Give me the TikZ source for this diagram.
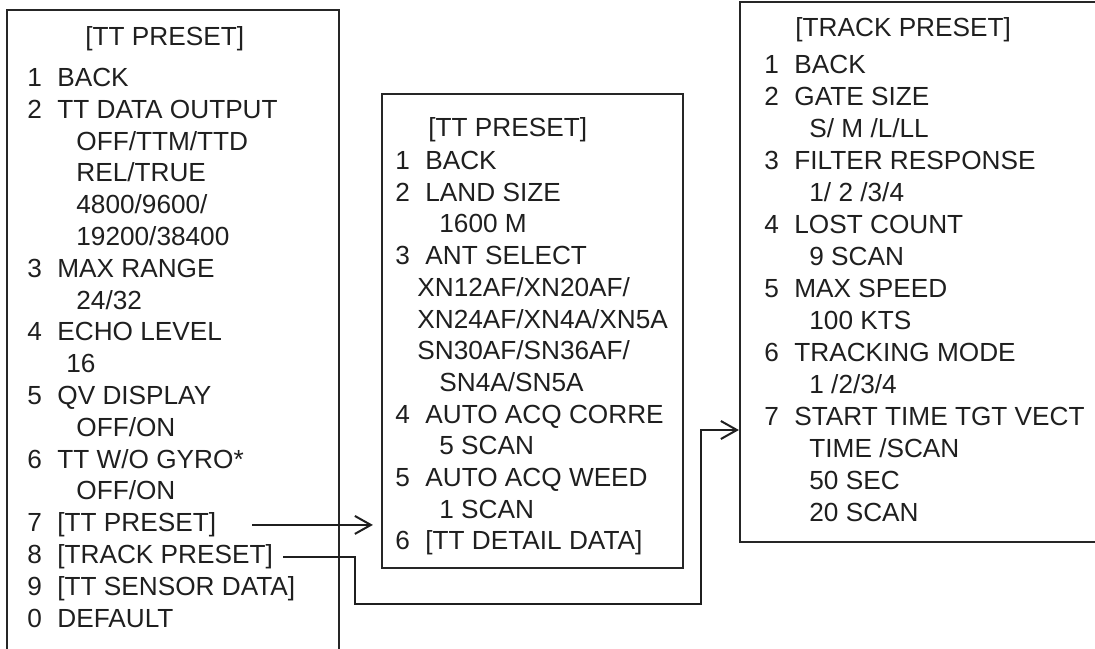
\documentclass[tikz,border=0pt]{standalone}
\usepackage{fontspec}
\setmainfont{Liberation Sans}
\usepackage{tikz}
\usetikzlibrary{arrows.meta, fit}

\newcommand{\itm}[2]{\makebox[15pt][l]{#1}#2}

\begin{document}
\begin{tikzpicture}[x=0.5pt, y=-0.5pt, font=\fontsize{13.1pt}{15.7pt}\selectfont]
    \tikzstyle{entry} = [anchor=base west, inner sep=0pt, text=black!88]
    \tikzstyle{menu} = [draw=black!85, line width=1.1pt, inner sep=0pt]
    \tikzstyle{link} = [line width=1pt, draw=black!88, -{Straight Barb[length=8pt, width=9pt]}]

    \useasboundingbox (0,0) rectangle (1095,648);
    \clip (0,0) rectangle (1095,648);

    % the three menu frames
    \node[menu, fit={(7,10) (339,660)}] (tt_menu) {};
    \node[menu, fit={(382,94) (683,568)}] (sub_menu) {};
    \node[menu, fit={(740,2) (1100,542)}] (track_menu) {};

    % left menu
    \node[entry] (tt_title) at (85, 45.5) {[TT PRESET]};
    \node[entry] (tt_back) at (27, 86.5) {\itm{1}{BACK}};
    \node[entry] (tt_output) at (27, 118.3) {\itm{2}{TT DATA OUTPUT}};
    \node[entry] (tt_output_a) at (76, 150.1) {OFF/TTM/TTD};
    \node[entry] (tt_output_b) at (76, 181.9) {REL/TRUE};
    \node[entry] (tt_output_c) at (76, 213.7) {4800/9600/};
    \node[entry] (tt_output_d) at (76, 245.5) {19200/38400};
    \node[entry] (tt_range) at (27, 277.3) {\itm{3}{MAX RANGE}};
    \node[entry] (tt_range_a) at (76, 309.1) {24/32};
    \node[entry] (tt_echo) at (27, 340.9) {\itm{4}{ECHO LEVEL}};
    \node[entry] (tt_echo_a) at (66, 372.7) {16};
    \node[entry] (tt_qv) at (27, 404.5) {\itm{5}{QV DISPLAY}};
    \node[entry] (tt_qv_a) at (76, 436.3) {OFF/ON};
    \node[entry] (tt_gyro) at (27, 468.1) {\itm{6}{TT W/O GYRO*}};
    \node[entry] (tt_gyro_a) at (76, 499.9) {OFF/ON};
    \node[entry] (tt_preset) at (27, 531.7) {\itm{7}{[TT PRESET]}};
    \node[entry] (track_preset) at (27, 563.5) {\itm{8}{[TRACK PRESET]}};
    \node[entry] (tt_sensor) at (27, 595.3) {\itm{9}{[TT SENSOR DATA]}};
    \node[entry] (tt_default) at (27, 627.1) {\itm{0}{DEFAULT}};

    % middle menu
    \node[entry] (sub_title) at (428, 136.5) {[TT PRESET]};
    \node[entry] (sub_back) at (395, 169.5) {\itm{1}{BACK}};
    \node[entry] (sub_land) at (395, 201.2) {\itm{2}{LAND SIZE}};
    \node[entry] (sub_land_a) at (439, 232.9) {1600 M};
    \node[entry] (sub_ant) at (395, 264.6) {\itm{3}{ANT SELECT}};
    \node[entry] (sub_ant_a) at (417, 296.3) {XN12AF/XN20AF/};
    \node[entry] (sub_ant_b) at (417, 328.0) {XN24AF/XN4A/XN5A};
    \node[entry] (sub_ant_c) at (417, 359.7) {SN30AF/SN36AF/};
    \node[entry] (sub_ant_d) at (439, 391.4) {SN4A/SN5A};
    \node[entry] (sub_corre) at (395, 423.1) {\itm{4}{AUTO ACQ CORRE}};
    \node[entry] (sub_corre_a) at (439, 454.8) {5 SCAN};
    \node[entry] (sub_weed) at (395, 486.5) {\itm{5}{AUTO ACQ WEED}};
    \node[entry] (sub_weed_a) at (439, 518.2) {1 SCAN};
    \node[entry] (sub_detail) at (395, 549.9) {\itm{6}{[TT DETAIL DATA]}};

    % right menu
    \node[entry] (trk_title) at (795, 36.5) {[TRACK PRESET]};
    \node[entry] (trk_back) at (764, 73.5) {\itm{1}{BACK}};
    \node[entry] (trk_gate) at (764, 105.5) {\itm{2}{GATE SIZE}};
    \node[entry] (trk_gate_a) at (809, 137.5) {S/ M /L/LL};
    \node[entry] (trk_filter) at (764, 169.5) {\itm{3}{FILTER RESPONSE}};
    \node[entry] (trk_filter_a) at (809, 201.5) {1/ 2 /3/4};
    \node[entry] (trk_lost) at (764, 233.5) {\itm{4}{LOST COUNT}};
    \node[entry] (trk_lost_a) at (809, 265.5) {9 SCAN};
    \node[entry] (trk_speed) at (764, 297.5) {\itm{5}{MAX SPEED}};
    \node[entry] (trk_speed_a) at (809, 329.5) {100 KTS};
    \node[entry] (trk_mode) at (764, 361.5) {\itm{6}{TRACKING MODE}};
    \node[entry] (trk_mode_a) at (809, 393.5) {1 /2/3/4};
    \node[entry] (trk_start) at (764, 425.5) {\itm{7}{START TIME TGT VECT}};
    \node[entry] (trk_start_a) at (809, 457.5) {TIME /SCAN};
    \node[entry] (trk_start_b) at (809, 489.5) {50 SEC};
    \node[entry] (trk_start_c) at (809, 521.5) {20 SCAN};

    % connectors
    \coordinate (bend_low) at (355, 604);
    \coordinate (bend_up) at (701, 430);
    \draw[link, shorten <=18pt, shorten >=4pt] (tt_preset.east) -- (tt_preset.east -| sub_menu.west);
    \draw[link, shorten <=5pt] (track_preset.east) -| (bend_low) -| (bend_up) -- (bend_up -| track_menu.west);
\end{tikzpicture}
\end{document}
